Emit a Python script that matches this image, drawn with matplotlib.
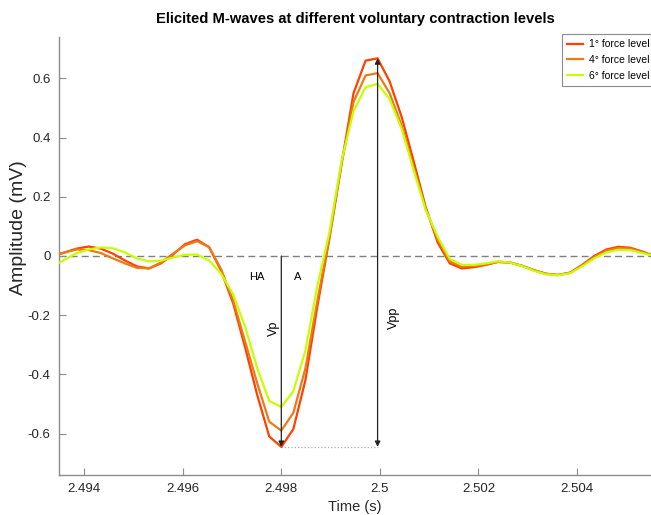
import numpy as np
import matplotlib
matplotlib.use("Agg")
import matplotlib.pyplot as plt

plt.rcParams['font.family'] = ['Liberation Sans', 'DejaVu Sans']

# ------- DATA -------
fs = 4096.0               # sampling rate, Hz
t_trough = 2.498          # sample of the negative peak
k = np.arange(-19, 32)    # sample index relative to the trough
time = t_trough + k / fs

force_1 = [0.000, 0.012, 0.025, 0.032, 0.025, 0.008, -0.015, -0.035, -0.042, -0.025,
           0.005, 0.040, 0.055, 0.030, -0.050, -0.160, -0.310, -0.470, -0.610, -0.645,
           -0.585, -0.420, -0.170, 0.060, 0.310, 0.550, 0.660, 0.668, 0.590, 0.470,
           0.320, 0.165, 0.045, -0.025, -0.042, -0.038, -0.030, -0.020, -0.022, -0.033,
           -0.048, -0.060, -0.064, -0.056, -0.030, 0.000, 0.022, 0.031, 0.028, 0.015,
           0.000]
force_4 = [0.000, 0.012, 0.022, 0.020, 0.010, -0.008, -0.025, -0.040, -0.042, -0.022,
           0.008, 0.036, 0.050, 0.030, -0.045, -0.150, -0.290, -0.430, -0.560, -0.590,
           -0.530, -0.380, -0.150, 0.065, 0.310, 0.520, 0.610, 0.618, 0.550, 0.440,
           0.300, 0.160, 0.055, -0.018, -0.036, -0.034, -0.028, -0.020, -0.022, -0.033,
           -0.048, -0.060, -0.064, -0.057, -0.032, -0.003, 0.018, 0.027, 0.025, 0.013,
           0.000]
force_6 = [-0.035, -0.012, 0.010, 0.022, 0.029, 0.026, 0.012, -0.008, -0.018, -0.016,
           -0.005, 0.004, 0.005, -0.015, -0.060, -0.130, -0.240, -0.380, -0.490, -0.510,
           -0.457, -0.320, -0.100, 0.080, 0.320, 0.490, 0.570, 0.582, 0.530, 0.430,
           0.290, 0.155, 0.065, -0.010, -0.030, -0.030, -0.025, -0.018, -0.022, -0.034,
           -0.050, -0.062, -0.065, -0.058, -0.035, -0.008, 0.012, 0.021, 0.020, 0.010,
           0.000]

labels = ['1° force level', '4° force level', '6° force level']
colors = ['#ff4100', '#ee7a14', '#c6ff00']

xticks = [2.494, 2.496, 2.498, 2.5, 2.502, 2.504]
xticklabels = ['2.494', '2.496', '2.498', '2.5', '2.502', '2.504']
yticks = [-0.6, -0.4, -0.2, 0, 0.2, 0.4, 0.6]
yticklabels = ['-0.6', '-0.4', '-0.2', '0', '0.2', '0.4', '0.6']

i_neg = 19   # index of the negative peak
i_pos = 27   # index of the positive peak

# ------- FIGURE -------
fig = plt.figure(figsize=(6.51, 5.15), dpi=100)
ax = fig.add_axes([59 / 651, 1 - 475 / 515, (651 - 59) / 651, (475 - 37) / 515])

for y, lab, c in zip([force_1, force_4, force_6], labels, colors):
    ax.plot(time, y, color=c, lw=1.6, label=lab, zorder=3)

# zero line
ax.axhline(0, color='#7f7f7f', lw=1.0, ls=(0, (5, 3)), zorder=1)

# Vp arrow (single head, from baseline to negative peak)
ax.annotate('', xy=(time[i_neg], force_1[i_neg]), xytext=(time[i_neg], 0),
            arrowprops=dict(arrowstyle='-|>', color='#222222', lw=0.9,
                            mutation_scale=8, shrinkA=0, shrinkB=0), zorder=4)
# Vpp arrow (double head)
ax.annotate('', xy=(time[i_pos], force_1[i_pos]), xytext=(time[i_pos], force_1[i_neg]),
            arrowprops=dict(arrowstyle='<|-|>', color='#222222', lw=0.9,
                            mutation_scale=8, shrinkA=0, shrinkB=0), zorder=4)
# dotted link between peaks
ax.plot([time[i_neg], time[i_pos]], [force_1[i_neg], force_1[i_neg]],
        color='#aaaaaa', lw=0.9, ls=':', zorder=2)

ax.text(2.4975, -0.07, 'HA', fontsize=8, ha='center', va='center')
ax.text(2.49834, -0.07, 'A', fontsize=8, ha='center', va='center')
ax.text(2.49785, -0.245, 'Vp', fontsize=9, rotation=90, ha='center', va='center')
ax.text(2.50028, -0.21, 'Vpp', fontsize=9, rotation=90, ha='center', va='center')

ax.set_xlim(2.49349, 2.50550)
ax.set_ylim(-0.74, 0.74)
ax.set_xticks(xticks)
ax.set_xticklabels(xticklabels)
ax.set_yticks(yticks)
ax.set_yticklabels(yticklabels)

for side in ['top', 'right']:
    ax.spines[side].set_visible(False)
for side in ['left', 'bottom']:
    ax.spines[side].set_color('#8c8c8c')
    ax.spines[side].set_linewidth(1.0)
ax.tick_params(direction='in', length=5, width=0.8, color='#8c8c8c',
               labelsize=9.5, labelcolor='#262626', pad=6)

ax.set_xlabel('Time (s)', fontsize=10.5, color='#262626', labelpad=3)
ax.set_ylabel('Amplitude (mV)', fontsize=14, color='#262626')
ax.yaxis.set_label_coords(-0.054, 0.564)
ax.set_title('Elicited M-waves at different voluntary contraction levels',
             fontsize=10.6, fontweight='bold', pad=10)

leg = ax.legend(loc='upper left', bbox_to_anchor=(562 / 651, 1 - 34 / 515),
                bbox_transform=fig.transFigure, fontsize=7.5, frameon=True,
                fancybox=False, handlelength=1.5, handletextpad=0.6,
                labelspacing=0.55, borderpad=0.5, borderaxespad=0)
leg.get_frame().set_edgecolor('#8c8c8c')
leg.get_frame().set_linewidth(0.8)
leg.get_frame().set_alpha(1)

fig.savefig('out.png', dpi=100)
